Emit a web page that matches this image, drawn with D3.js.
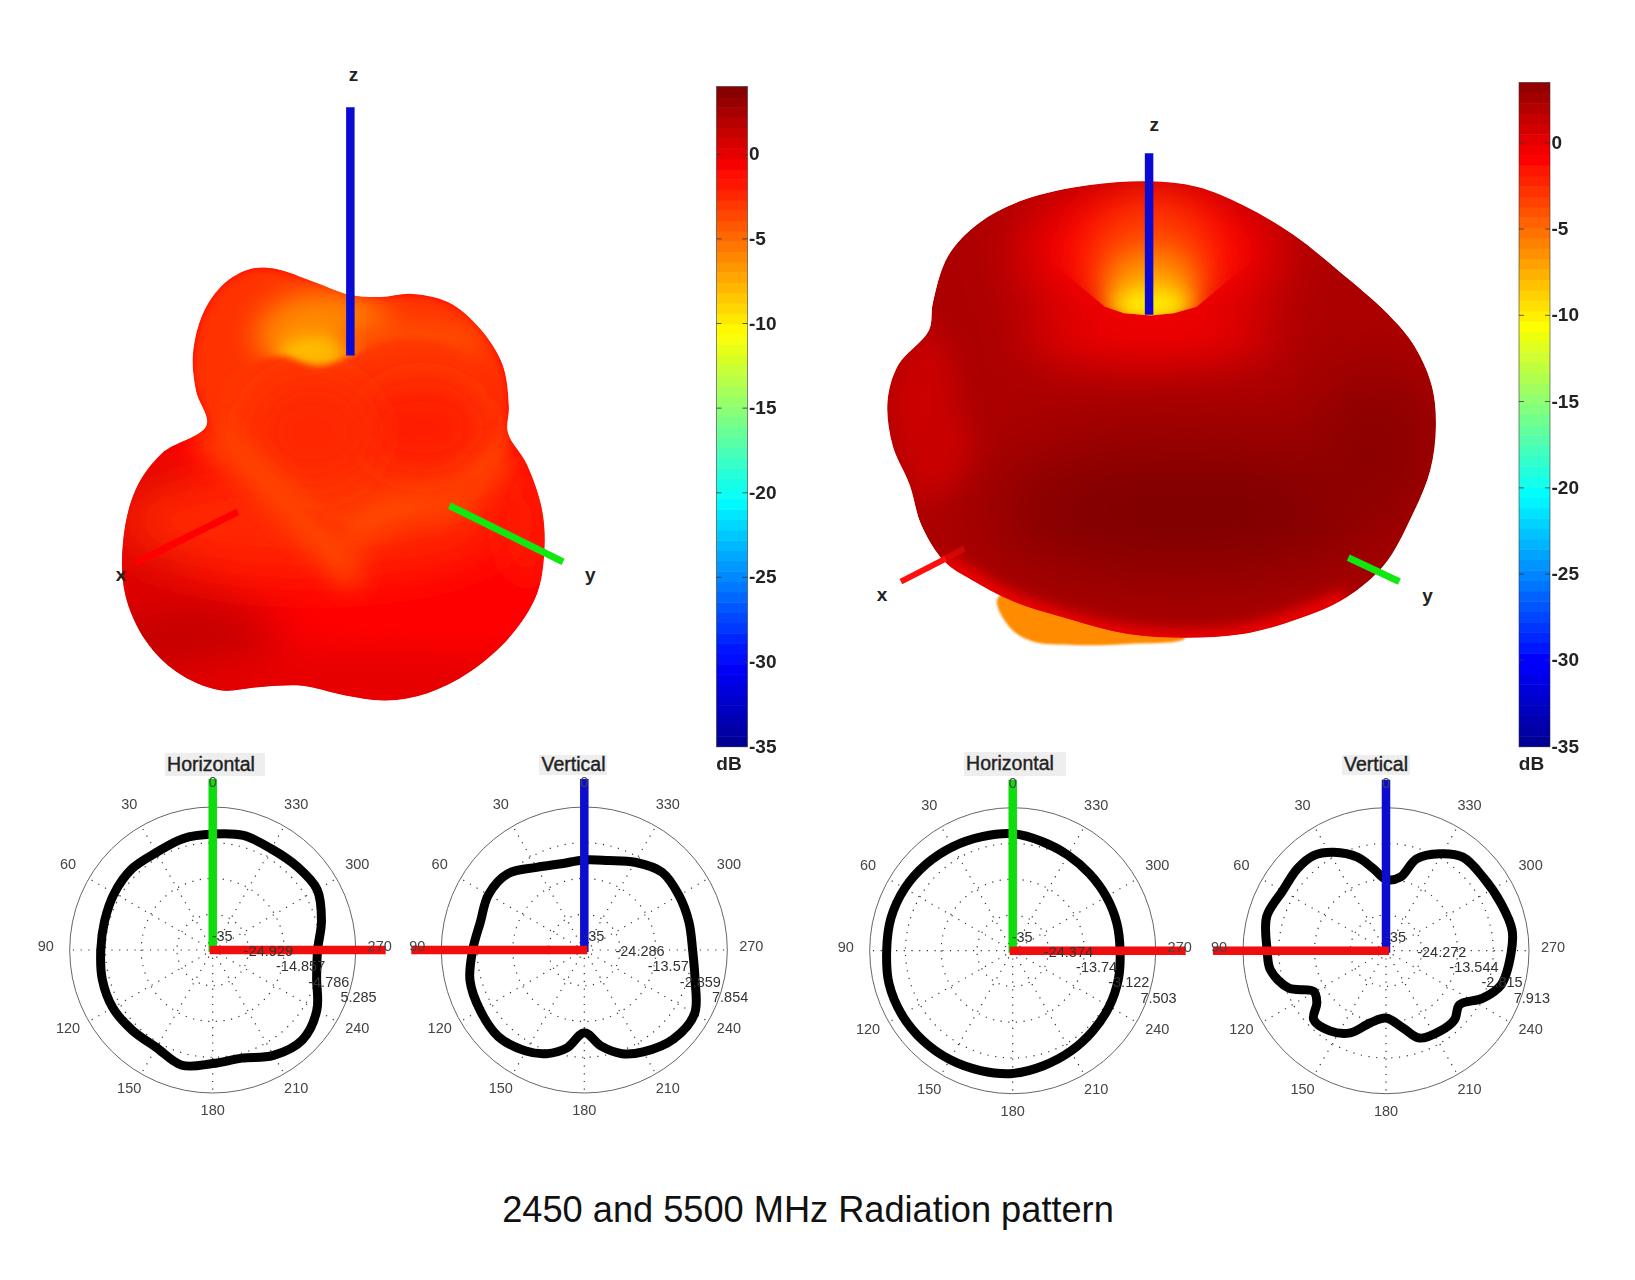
<!DOCTYPE html>
<html>
<head>
<meta charset="utf-8">
<script src="https://cdn.jsdelivr.net/npm/d3@7"></script>
<style>
  body { margin: 0; background: #fff; }
  text { font-family: "Liberation Sans", Arial, sans-serif; }
</style>
</head>
<body>
<div id="chart"></div>
<script>
// polar cuts, dB, angle counted from the top going left
const anglesEven = [0,15,30,45,60,75,90,105,120,135,150,165,180,195,210,225,240,255,270,285,300,315,330,345];
const db2450H = [-2.34,-2.53,-3.28,-2.72,-3.0,-3.47,-3.47,-2.81,-2.5,-3.0,-3.28,-1.4,-3.0,-3.47,-0.74,0.77,-1.12,-4.69,-5.45,-3.28,-1.02,-1.59,-2.06,-1.59];
const angles2450V = [0,15,30,45,60,75,90,105,120,135,150,160,170,180,190,200,210,225,240,255,270,285,300,315,330,345];
const db2450V = [-8.03,-8.23,-6.4,-2.64,-1.84,-2.74,-1.54,0.46,1.06,1.56,-0.04,-1.94,-5.23,-10.23,-5.73,-1.94,0.26,2.76,3.16,-0.64,-2.54,-2.54,-2.24,-2.04,-4.63,-7.23];
const db5500H = [-0.21,0.09,0.68,1.37,2.07,2.46,2.46,3.05,3.05,2.76,2.36,1.87,1.47,0.38,-0.51,-1.3,-1.89,-2.48,-3.08,-2.98,-2.88,-2.68,-2.19,-1.39];
const angles5500V = [0,8.7,17,28,37,47,60,74,90,99.5,111,119.4,127,133.6,145,156.5,167.6,180,192.6,201,213.7,224.9,233.7,243.9,253.5,268.8,279.3,292,307,320.6,331,341.6,349];
const db5500V = [-13.59,-10.11,-5.63,-1.54,0.85,1.24,0.85,2.24,0.65,0.15,-3.73,-10.11,-9.01,-5.03,-5.63,-8.12,-12.8,-14.79,-11.2,-6.92,-5.93,-5.83,-7.62,-2.64,1.04,2.54,3.33,2.34,1.54,1.34,-1.74,-5.93,-12.5];

const spokeAngles = [0,30,60,90,120,150,180,210,240,270,300,330];
const ticks2450H = ["-35","-24.929","-14.857","-4.786","5.285"];
const ticks2450V = ["-35","-24.286","-13.57","-2.859","7.854"];
const ticks5500H = ["-35","-24.374","-13.74","-3.122","7.503"];
const ticks5500V = ["-35","-24.272","-13.544","-2.815","7.913"];

// colour bars
const barTicks = [0,-5,-10,-15,-20,-25,-30,-35];
const jetDb = [-35,-30.1,-20.4,-10.6,-0.9,4];
const jetColors = ["#00008f","#0000ff","#00ffff","#ffff00","#ff0000","#800000"];
const color = d3.scaleLinear().domain(jetDb).range(jetColors);

// 3D surfaces, traced in picture units
const outlineA = [[240,258],[265,258],[300,270],[336,283],[365,285],[395,282],[430,290],[460,315],[482,350],[488,390],[487,415],[505,445],[520,490],[522,530],[515,570],[490,610],[450,645],[410,665],[370,672],[330,667],[290,658],[250,659],[210,662],[170,645],[140,615],[120,570],[118,520],[130,470],[155,435],[198,408],[188,375],[185,340],[195,300],[215,272]];
const backLobeA = [[188,375],[185,340],[195,300],[215,272],[240,258],[265,258],[300,270],[336,283],[365,285],[395,282],[430,290],[460,315],[482,350],[488,390],[487,430],[440,470],[330,500],[220,430]];
const heartA = [[305,352],[335,342],[370,328],[410,326],[445,340],[470,380],[462,425],[425,465],[385,490],[340,505],[295,485],[250,445],[218,410],[212,375],[235,352],[270,342]];
const ridgeA1 = [[200,420],[250,460],[300,510],[335,550]];
const ridgeA2 = [[335,515],[385,490],[440,480],[482,440]];
const blobsA = [
  [170,625,100,65,1.3,26],[350,655,210,30,0.1,18],[145,510,50,75,0.6,20],[505,500,28,60,-1.8,15],[300,500,190,55,-2.4,24]
];
const glowA = [[310,322,65,42,-6.2,15],[305,340,38,16,-8.6,8],[395,328,70,22,-3.8,12]];
const heartShadeA = [[405,410,62,45,-1.9,20],[300,415,60,52,-2.3,20]];

const outlineB = [[757,225],[880,240],[1000,290],[1130,370],[1250,470],[1380,590],[1450,680],[1495,790],[1505,900],[1490,1020],[1440,1150],[1370,1280],[1270,1370],[1140,1430],[1000,1470],[850,1480],[700,1470],[550,1430],[400,1380],[290,1320],[220,1270],[160,1170],[130,1060],[85,950],[72,830],[100,730],[180,635],[190,560],[230,430],[310,340],[430,275],[600,235]];
const underLobeB = [[360,1370],[390,1450],[450,1490],[560,1500],[700,1497],[850,1480],[600,1340]];
const backLobeB = [[72,830],[100,730],[180,635],[230,700],[260,850],[300,1000],[160,1100]];
const bottomRimB = [[220,1270],[400,1380],[700,1470],[1000,1470],[1270,1370]];
const bowlB = [[100,60],[1400,60],[1100,380],[960,500],[880,570],[820,588],[760,594],[690,588],[640,570],[560,500],[420,380]];
const blobsB = [
  [760,650,330,70,-0.5,25],[850,1130,520,190,4,40],[1350,950,170,220,3.6,35],[760,420,340,200,-0.9,30]
];
const glowB = [[760,440,170,170,-3.4,22],[760,510,120,90,-7,16],[760,565,110,42,-10.5,11]];

const xAxisA = [[130,540],[228,491]], yAxisA = [[431,485],[540,539]], zAxisA = [[336,103],[336,341]];
const xAxisB = [[864,558],[907,536]], xAxisBhidden = [[907,536],[925,526]], yAxisB = [[1293,535],[1342,558]], zAxisB = [[1102,147],[1102,302]];

const width = 1635, height = 1280;
const svg = d3.select("#chart").append("svg").attr("width", width).attr("height", height);
const defs = svg.append("defs");

const blurIds = {};
const blur = (n) => {
  if (!blurIds[n]) {
    blurIds[n] = "blur" + String(n).replace(".", "_");
    defs.append("filter").attr("id", blurIds[n])
      .attr("x", "-100%").attr("y", "-100%").attr("width", "300%").attr("height", "300%")
      .append("feGaussianBlur").attr("stdDeviation", n);
  }
  return "url(#" + blurIds[n] + ")";
};

const srcX = d3.scaleLinear().domain([0, 1568]).range([0, 1635]);
const srcY = d3.scaleLinear().domain([0, 1228]).range([0, 1280]);
const bX = d3.scaleLinear().domain([0, 1568]).range([860, 1460]);
const bY = d3.scaleLinear().domain([0, 1489]).range([99.5, 641]);

const closed = (sx, sy) => d3.line().x(d => sx(d[0])).y(d => sy(d[1])).curve(d3.curveCatmullRomClosed);
const open = (sx, sy) => d3.line().x(d => sx(d[0])).y(d => sy(d[1])).curve(d3.curveCatmullRom);

const addBlobs = (g, list, sx, sy) => {
  const kx = sx(1) - sx(0), ky = sy(1) - sy(0);
  g.selectAll(null).data(list).enter().append("ellipse")
    .attr("cx", d => sx(d[0])).attr("cy", d => sy(d[1]))
    .attr("rx", d => d[2] * kx).attr("ry", d => d[3] * ky)
    .attr("fill", d => color(d[4]))
    .attr("filter", d => blur(d[5]));
};

// left surface, 2450 MHz
defs.append("clipPath").attr("id", "clipA").append("path").attr("d", closed(srcX, srcY)(outlineA));
const surfA = svg.append("g").attr("clip-path", "url(#clipA)");
surfA.append("path").attr("d", closed(srcX, srcY)(outlineA)).attr("fill", color(-0.9));
addBlobs(surfA, blobsA, srcX, srcY);
surfA.append("path").attr("d", closed(srcX, srcY)(backLobeA)).attr("fill", color(-2.8)).attr("filter", blur(5));
addBlobs(surfA, glowA, srcX, srcY);
surfA.append("path").attr("d", closed(srcX, srcY)(heartA)).attr("fill", color(-3)).attr("filter", blur(3));
addBlobs(surfA, heartShadeA, srcX, srcY);
[ridgeA1, ridgeA2].forEach(r => {
  surfA.append("path").attr("d", open(srcX, srcY)(r)).attr("fill", "none")
    .attr("stroke", color(-3.8)).attr("stroke-width", 26).attr("stroke-linecap", "round").attr("filter", blur(13));
});

// right surface, 5500 MHz
svg.append("path").attr("d", closed(bX, bY)(underLobeB)).attr("fill", color(-6.2)).attr("filter", blur(1));
defs.append("clipPath").attr("id", "clipB").append("path").attr("d", closed(bX, bY)(outlineB));
defs.append("clipPath").attr("id", "bowlB").append("path").attr("d", d3.line().x(d => bX(d[0])).y(d => bY(d[1]))(bowlB) + "Z");
const surfB = svg.append("g").attr("clip-path", "url(#clipB)");
surfB.append("path").attr("d", closed(bX, bY)(outlineB)).attr("fill", color(2.3));
surfB.append("path").attr("d", closed(bX, bY)(backLobeB)).attr("fill", color(1.1)).attr("filter", blur(14));
addBlobs(surfB, blobsB, bX, bY);
surfB.append("path").attr("d", open(bX, bY)(bottomRimB)).attr("fill", "none")
  .attr("stroke", color(-0.6)).attr("stroke-width", 16).attr("filter", blur(7));
addBlobs(surfB.append("g").attr("clip-path", "url(#bowlB)"), glowB, bX, bY);

// 3D axis sticks
const stick = (pts, sx, sy, c, w, o) => svg.append("line")
  .attr("x1", sx(pts[0][0])).attr("y1", sy(pts[0][1]))
  .attr("x2", sx(pts[1][0])).attr("y2", sy(pts[1][1]))
  .attr("stroke", c).attr("stroke-width", w).attr("opacity", o || 1);
stick(zAxisA, srcX, srcY, "#0a0ad2", 8.5);
stick(xAxisA, srcX, srcY, "#ff0000", 7);
stick(yAxisA, srcX, srcY, "#10e810", 7);
stick(zAxisB, srcX, srcY, "#0a0ad2", 8.5);
stick(xAxisB, srcX, srcY, "#ff1010", 6);
stick(xAxisBhidden, srcX, srcY, "#ff1010", 6, 0.4);
stick(yAxisB, srcX, srcY, "#10e810", 7);
const axisLabel = (t, x, y) => svg.append("text").attr("x", srcX(x)).attr("y", srcY(y))
  .attr("text-anchor", "middle").attr("dominant-baseline", "middle")
  .attr("font-size", 19).attr("font-weight", 700).attr("fill", "#222").text(t);
axisLabel("z", 339, 73); axisLabel("x", 116, 553); axisLabel("y", 566, 553);
axisLabel("z", 1107, 121); axisLabel("x", 846, 572); axisLabel("y", 1369, 573);

// colour bars
const colorBar = (x, top, y0, unit) => {
  const w = 31, bottom = 746.6;
  const y = d3.scaleLinear().domain([-35, 0]).range([bottom, y0]);
  const maxDb = y.invert(top);
  const g = svg.append("g").attr("filter", blur(0.4));
  const bands = d3.range(64);
  const bandH = (bottom - top) / 64;
  g.selectAll("rect").data(bands).enter().append("rect")
    .attr("x", x).attr("width", w)
    .attr("y", i => bottom - (i + 1) * bandH).attr("height", bandH + 0.5)
    .attr("fill", i => color(-35 + (i + 0.5) / 64 * (maxDb + 35)));
  g.append("rect").attr("x", x).attr("y", top).attr("width", w).attr("height", bottom - top)
    .attr("fill", "none").attr("stroke", "#333").attr("stroke-width", 0.8).attr("opacity", 0.7);
  g.selectAll(".tk").data(barTicks).enter().append("path").attr("class", "tk")
    .attr("d", d => `M${x},${y(d)}h5M${x + w},${y(d)}h-5`)
    .attr("stroke", "#333").attr("stroke-width", 0.8);
  g.selectAll(".lb").data(barTicks).enter().append("text").attr("class", "lb")
    .attr("x", x + w + 1.5).attr("y", d => y(d) + 1).attr("dominant-baseline", "middle")
    .attr("font-size", 19).attr("font-weight", 700).attr("fill", "#222").text(d => d);
  g.append("text").attr("x", x + w / 2 - 3).attr("y", 765).attr("text-anchor", "middle")
    .attr("dominant-baseline", "middle").attr("font-size", 19).attr("font-weight", 700)
    .attr("fill", "#222").text(unit);
};
colorBar(716.5, 86.5, 154.3, "dB");
colorBar(1519, 82.4, 142.8, "dB");

// polar cuts
const polarR = 143;
const polar = (cx, cy, title, titleBox, titleX, angles, values, ticks, stickColor, stickSide) => {
  const tickVals = ticks.map(Number);
  const r = d3.scaleLinear().domain([tickVals[0], tickVals[4]]).range([0, polarR]);
  const rad = d3.scaleLinear().domain([0, 360]).range([0, -2 * Math.PI]);
  const g = svg.append("g").attr("transform", `translate(${cx},${cy})`).attr("filter", blur(0.45));

  g.append("circle").attr("r", polarR).attr("fill", "none").attr("stroke", "#666").attr("stroke-width", 1);
  g.selectAll(".ring").data(tickVals.slice(1, 4)).enter().append("circle").attr("class", "ring")
    .attr("r", d => r(d)).attr("fill", "none").attr("stroke", "#333")
    .attr("stroke-width", 1.2).attr("stroke-dasharray", "1.2 6.5");
  g.selectAll(".spoke").data(spokeAngles).enter().append("line").attr("class", "spoke")
    .attr("x2", d => Math.sin(rad(d)) * polarR)
    .attr("y2", d => -Math.cos(rad(d)) * polarR)
    .attr("stroke", "#333").attr("stroke-width", 1.2).attr("stroke-dasharray", "1.2 6.5");

  const line = d3.lineRadial().curve(d3.curveCatmullRomClosed.alpha(0.5))
    .angle((d, i) => rad(angles[i])).radius(d => r(d));
  g.append("path").attr("d", line(values)).attr("fill", "none")
    .attr("stroke", "#000").attr("stroke-width", 9).attr("stroke-linejoin", "round");

  g.append("line").attr("x1", 0).attr("y1", 2).attr("x2", 0).attr("y2", -171)
    .attr("stroke", stickColor).attr("stroke-width", 8.5);
  g.append("line").attr("x1", stickSide * -3).attr("y1", 0).attr("x2", stickSide * 173).attr("y2", 0)
    .attr("stroke", "#f00d0d").attr("stroke-width", 8.5);

  g.selectAll(".ang").data(spokeAngles).enter().append("text").attr("class", "ang")
    .attr("x", d => Math.sin(rad(d)) * 167).attr("y", d => -Math.cos(rad(d)) * 164 - 3)
    .attr("text-anchor", "middle").attr("dominant-baseline", "middle")
    .attr("font-size", 14.5).attr("fill", "#444").text(d => d);

  g.selectAll(".rt").data(ticks).enter().append("text").attr("class", "rt")
    .attr("x", d => 0.9 * r(+d) - 1).attr("y", d => 0.427 * r(+d) - 13)
    .attr("dominant-baseline", "middle").attr("font-size", 14.5).attr("fill", "#333")
    .text(d => d);

  svg.append("rect").attr("x", titleBox[0]).attr("y", titleBox[1])
    .attr("width", titleBox[2]).attr("height", titleBox[3]).attr("fill", "#eee");
  svg.append("text").attr("x", titleX).attr("y", titleBox[1] + titleBox[3] / 2 + 1)
    .attr("text-anchor", "middle").attr("dominant-baseline", "middle")
    .attr("font-size", 19.5).attr("fill", "#222").attr("stroke", "#222").attr("stroke-width", 0.4)
    .text(title);
};
polar(212.7, 950, "Horizontal", [165, 753, 100, 23], 211, anglesEven, db2450H, ticks2450H, "#10dc10", 1);
polar(584.3, 950, "Vertical", [539, 755, 68, 20], 573.5, angles2450V, db2450V, ticks2450V, "#0a0ad2", -1);
polar(1012.7, 950.7, "Horizontal", [964, 752, 102, 24], 1010, anglesEven, db5500H, ticks5500H, "#10dc10", 1);
polar(1386, 950.7, "Vertical", [1342, 755, 68, 20], 1376, angles5500V, db5500V, ticks5500V, "#0a0ad2", -1);

svg.append("text").attr("x", 808).attr("y", 1212.5).attr("text-anchor", "middle")
  .attr("dominant-baseline", "middle").attr("font-size", 36.2).attr("fill", "#111")
  .text("2450 and 5500 MHz Radiation pattern");
</script>
</body>
</html>
